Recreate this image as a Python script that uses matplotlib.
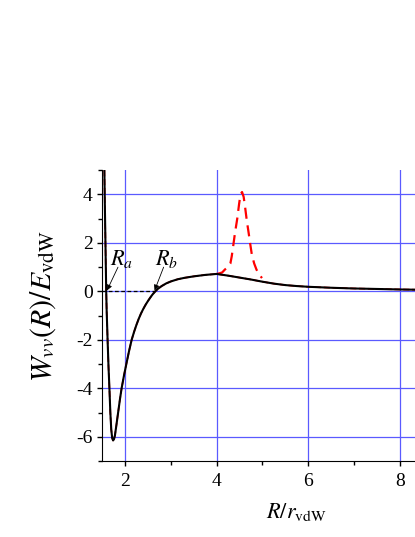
import matplotlib
matplotlib.use("Agg")
import matplotlib.pyplot as plt
from matplotlib.ticker import MultipleLocator

plt.rcParams['font.family'] = ['Liberation Serif', 'DejaVu Serif']
plt.rcParams['mathtext.fontset'] = 'stix'
plt.rcParams['axes.unicode_minus'] = False

# black curve W_vv(R)/E_vdW
R_black = [1.55, 1.56, 1.57, 1.58, 1.59, 1.60, 1.62, 1.64, 1.66, 1.68, 1.70, 1.72,
           1.74, 1.76, 1.78, 1.81, 1.85, 1.89, 1.926, 1.98, 2.04, 2.09, 2.145, 2.2,
           2.25, 2.3, 2.35, 2.4, 2.45, 2.5, 2.55, 2.6, 2.66, 2.72, 2.8, 2.9, 3.0,
           3.15, 3.3, 3.5, 3.75, 4.0,
           4.25, 4.5, 4.75, 5.0, 5.25, 5.5, 5.75, 6.0, 6.5, 7.0, 7.5, 8.0, 8.33]
W_black = [5.0, 3.6, 2.4, 1.2, 0.0, -0.8, -2.0, -3.1, -4.0, -5.0, -5.7, -6.05,
           -6.15, -6.1, -5.95, -5.55, -5.0, -4.45, -4.0, -3.45, -2.9, -2.45, -2.0, -1.66,
           -1.38, -1.13, -0.91, -0.72, -0.55, -0.40, -0.26, -0.13, 0.0, 0.11, 0.22, 0.33, 0.41,
           0.5, 0.56, 0.62, 0.68, 0.72,
           0.65, 0.57, 0.49, 0.40, 0.32, 0.26, 0.22, 0.19, 0.15, 0.12, 0.10, 0.08, 0.07]

# red dashed resonance curve
R_red = [4.0, 4.05, 4.12, 4.18, 4.24, 4.3, 4.33, 4.36, 4.4, 4.45, 4.49, 4.52, 4.555,
         4.59, 4.62, 4.66, 4.7, 4.73, 4.77, 4.82, 4.87, 4.92, 4.99]
W_red = [0.72, 0.74, 0.78, 0.9, 1.0, 1.15, 1.45, 1.85, 2.4, 3.0, 3.6, 4.0, 4.1,
         3.9, 3.5, 2.9, 2.4, 2.0, 1.5, 1.15, 0.9, 0.72, 0.55]

x_ticks = [2, 4, 6, 8]
y_ticks = [-6, -4, -2, 0, 2, 4]

fig = plt.figure(figsize=(4.15, 5.37), dpi=100)
ax = fig.add_axes([0.246, 0.1415, 0.754, 0.5415])
ax.set_xlim(1.5, 8.33)
ax.set_ylim(-7, 5)

ax.set_xticks(x_ticks)
ax.set_yticks(y_ticks)
ax.xaxis.set_minor_locator(MultipleLocator(1))
ax.yaxis.set_minor_locator(MultipleLocator(1))
ax.tick_params(which='both', direction='out', width=1, labelsize=14)
ax.tick_params(which='major', length=3.8)
ax.tick_params(which='minor', length=2.6)
ax.tick_params(axis='x', pad=5)
ax.tick_params(axis='y', pad=3)
ax.grid(True, which='major', color='#5a5aff', linewidth=0.9)
ax.set_axisbelow(True)
for s in ['top', 'right']:
    ax.spines[s].set_visible(False)

ax.plot(R_black, W_black, color='red', lw=1.2, ls='--', zorder=2)
ax.plot(R_red, W_red, color='red', lw=1.6, ls=(0, (5, 3)), zorder=2)
ax.plot(R_black, W_black, color='black', lw=1.5, zorder=3)
ax.plot([1.5, 2.66], [0, 0], color='black', lw=0.9, ls=(0, (3, 2)), zorder=2)

ax.text(1.67, 1.07, r'$R_a$', fontsize=16, ha='left', va='baseline')
ax.text(2.65, 1.07, r'$R_b$', fontsize=16, ha='left', va='baseline')
ax.annotate('', xy=(1.607, 0.04), xytext=(1.847, 1.0),
            arrowprops=dict(arrowstyle='-|>', color='black', lw=0.6,
                            mutation_scale=8, shrinkA=0, shrinkB=0))
ax.annotate('', xy=(2.646, 0.04), xytext=(2.843, 1.0),
            arrowprops=dict(arrowstyle='-|>', color='black', lw=0.6,
                            mutation_scale=8, shrinkA=0, shrinkB=0))

fig.text(0.105, 0.43, r'$W_{vv}(R)/E_{\rm vdW}$', rotation=90, fontsize=21.5,
         ha='center', va='center')
fig.text(0.713, 0.036, r'$R/r_{\rm vdW}$', fontsize=16, ha='center', va='baseline')

fig.savefig('out.png', dpi=100)
